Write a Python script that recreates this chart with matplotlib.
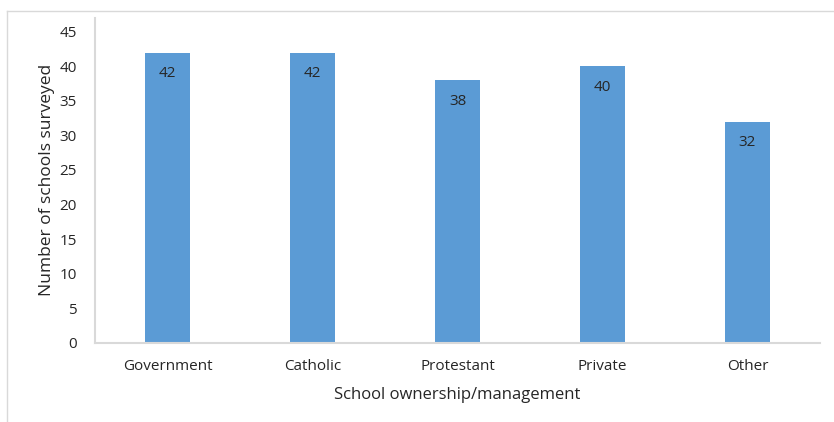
import matplotlib
matplotlib.use("Agg")
import matplotlib.pyplot as plt
from matplotlib.lines import Line2D

categories = ["Government", "Catholic", "Protestant", "Private", "Other"]
values = [42, 42, 38, 40, 32]
yticks = [0, 5, 10, 15, 20, 25, 30, 35, 40, 45]

plt.rcParams['font.family'] = ['Open Sans', 'DejaVu Sans']
txt = '#262626'
grey = '#D9D9D9'

fig = plt.figure(figsize=(8.34, 4.22), dpi=100)
W, H = 834, 422
ax = fig.add_axes([95 / W, 1 - 342.7 / H, (820 - 95) / W, (342.7 - 18) / H])

x = range(len(categories))
ax.bar(x, values, width=0.31, color='#5B9BD5')
for xi, v in zip(x, values):
    ax.annotate(str(v), (xi, v), xytext=(0, -15), textcoords='offset points',
                ha='center', va='center', fontsize=11, color=txt)

ax.set_xlim(-0.5, len(categories) - 0.5)
ax.set_ylim(0, 47)
ax.set_yticks(yticks)
ax.set_xticks(list(x))
ax.set_xticklabels(categories)
ax.tick_params(axis='both', length=0, labelsize=11, colors=txt)
ax.tick_params(axis='y', pad=13)
ax.tick_params(axis='x', pad=12)
for s in ['top', 'right']:
    ax.spines[s].set_visible(False)
for s in ['left', 'bottom']:
    ax.spines[s].set_color(grey)
    ax.spines[s].set_linewidth(1.5)

ax.set_ylabel("Number of schools surveyed", fontsize=12.5, color=txt, labelpad=3)
ax.set_xlabel("School ownership/management", fontsize=12, color=txt, labelpad=9)

# outer chart frame (top and left edges visible)
fig.add_artist(Line2D([7 / W, 7 / W], [0, 1 - 10.5 / H], transform=fig.transFigure, color=grey, lw=1))
fig.add_artist(Line2D([7 / W, 833 / W], [1 - 10.5 / H, 1 - 10.5 / H], transform=fig.transFigure, color=grey, lw=1))

fig.savefig("out.png", dpi=100)
